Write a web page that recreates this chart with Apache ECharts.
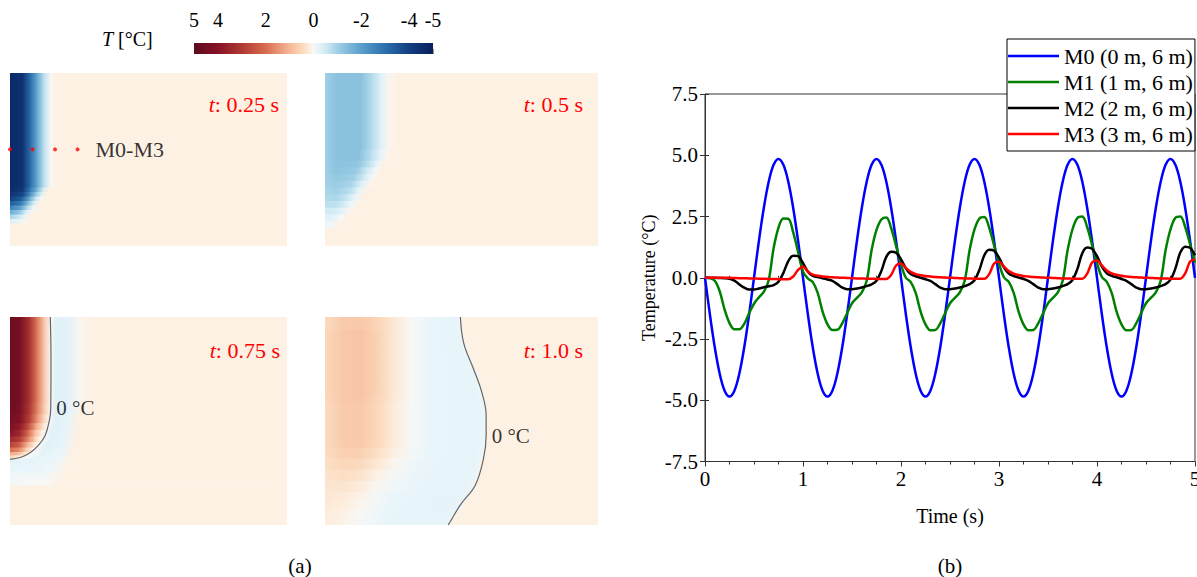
<!DOCTYPE html>
<html><head><meta charset="utf-8">
<script src="https://cdn.jsdelivr.net/npm/echarts@6/dist/echarts.min.js"></script>
<style>html,body{margin:0;padding:0;background:#fff;}#c{width:1197px;height:577px;}</style>
</head><body><div id="c"></div>
<script>
const FONT = "'Liberation Serif','Times New Roman',serif";

// ---------- (b) time series ----------
const times = [0,0.05,0.1,0.15,0.2,0.25,0.3,0.35,0.4,0.45,0.5,0.55,0.6,0.65,0.7,0.75,0.8,0.85,0.9,0.95,
1,1.05,1.1,1.15,1.2,1.25,1.3,1.35,1.4,1.45,1.5,1.55,1.6,1.65,1.7,1.75,1.8,1.85,1.9,1.95,
2,2.05,2.1,2.15,2.2,2.25,2.3,2.35,2.4,2.45,2.5,2.55,2.6,2.65,2.7,2.75,2.8,2.85,2.9,2.95,
3,3.05,3.1,3.15,3.2,3.25,3.3,3.35,3.4,3.45,3.5,3.55,3.6,3.65,3.7,3.75,3.8,3.85,3.9,3.95,
4,4.05,4.1,4.15,4.2,4.25,4.3,4.35,4.4,4.45,4.5,4.55,4.6,4.65,4.7,4.75,4.8,4.85,4.9,4.95,5];
const m0 = [0,-1.5,-2.85,-3.92,-4.61,-4.85,-4.61,-3.92,-2.85,-1.5,0,1.5,2.85,3.92,4.61,4.85,4.61,3.92,2.85,1.5,
0,-1.5,-2.85,-3.92,-4.61,-4.85,-4.61,-3.92,-2.85,-1.5,0,1.5,2.85,3.92,4.61,4.85,4.61,3.92,2.85,1.5,
0,-1.5,-2.85,-3.92,-4.61,-4.85,-4.61,-3.92,-2.85,-1.5,0,1.5,2.85,3.92,4.61,4.85,4.61,3.92,2.85,1.5,
0,-1.5,-2.85,-3.92,-4.61,-4.85,-4.61,-3.92,-2.85,-1.5,0,1.5,2.85,3.92,4.61,4.85,4.61,3.92,2.85,1.5,
0,-1.5,-2.85,-3.92,-4.61,-4.85,-4.61,-3.92,-2.85,-1.5,0,1.5,2.85,3.92,4.61,4.85,4.61,3.92,2.85,1.5,0];
const m1 = [0,-0.02,-0.12,-0.55,-1.3,-1.85,-2.1,-2.1,-1.88,-1.45,-1.06,-0.8,-0.58,-0.1,1.2,2.05,2.42,2.41,1.85,1.05,
0.25,-0.03,-0.18,-0.62,-1.38,-1.9,-2.13,-2.12,-1.86,-1.45,-1.04,-0.82,-0.6,-0.12,1.12,1.95,2.38,2.46,2.02,1.3,
0.55,0,-0.18,-0.62,-1.38,-1.9,-2.14,-2.13,-1.86,-1.45,-1.04,-0.82,-0.6,-0.12,1.12,1.97,2.42,2.48,2.04,1.32,
0.58,0.02,-0.17,-0.62,-1.38,-1.9,-2.14,-2.13,-1.86,-1.45,-1.04,-0.82,-0.6,-0.12,1.12,1.98,2.44,2.5,2.06,1.34,
0.6,0.03,-0.17,-0.62,-1.38,-1.9,-2.14,-2.13,-1.86,-1.45,-1.04,-0.82,-0.6,-0.12,1.12,1.98,2.45,2.5,2.07,1.36,0.62];
const m2 = [0,0,0,-0.01,-0.02,-0.04,-0.12,-0.27,-0.4,-0.48,-0.48,-0.44,-0.39,-0.35,-0.3,-0.16,0.2,0.68,0.9,0.88,
0.6,0.25,0.08,0.03,-0.02,-0.07,-0.13,-0.26,-0.4,-0.47,-0.47,-0.44,-0.4,-0.34,-0.27,-0.12,0.28,0.85,1.06,1.02,
0.75,0.38,0.15,0.06,0,-0.06,-0.13,-0.26,-0.4,-0.47,-0.47,-0.44,-0.4,-0.34,-0.26,-0.1,0.32,0.92,1.14,1.1,
0.82,0.42,0.17,0.07,0.01,-0.05,-0.13,-0.26,-0.4,-0.47,-0.47,-0.44,-0.4,-0.34,-0.26,-0.09,0.36,1.0,1.23,1.18,
0.88,0.45,0.18,0.08,0.02,-0.05,-0.13,-0.26,-0.4,-0.47,-0.47,-0.44,-0.4,-0.34,-0.26,-0.08,0.38,1.03,1.27,1.22,0.92];
const m3 = [0,0,0,0,0,0,-0.01,-0.02,-0.02,-0.03,-0.03,-0.04,-0.04,-0.05,-0.05,-0.06,-0.06,-0.06,0.05,0.32,
0.45,0.25,0.13,0.08,0.05,0.03,0.02,0.01,0,-0.01,-0.02,-0.03,-0.03,-0.04,-0.04,-0.05,-0.05,-0.05,0.12,0.5,
0.58,0.4,0.24,0.15,0.1,0.07,0.05,0.03,0.02,0.01,0,-0.01,-0.02,-0.03,-0.03,-0.04,-0.04,-0.04,0.15,0.58,
0.65,0.46,0.27,0.17,0.11,0.07,0.05,0.03,0.02,0.01,0,-0.01,-0.02,-0.03,-0.03,-0.04,-0.04,-0.04,0.17,0.62,
0.7,0.5,0.3,0.18,0.12,0.08,0.05,0.03,0.02,0.01,0,-0.01,-0.02,-0.03,-0.03,-0.04,-0.04,-0.04,0.18,0.66,0.76];
const seriesNames = ['M0 (0 m, 6 m)','M1 (1 m, 6 m)','M2 (2 m, 6 m)','M3 (3 m, 6 m)'];
const seriesValues = [m0, m1, m2, m3];
const seriesColors = ['#0000ff','#008000','#000000','#ff0000'];

// ---------- colour scale ----------
const cbarTicks = [5,4,2,0,-2,-4,-5];
const cmapT = [-5,-4,-3,-2,-1,-0.5,-0.15,0,0.12,0.5,1,2,3,4,5];
const cmapC = ['#0a1f5c','#123f80','#2a6fad','#5a9fcb','#9fd0e6','#d3ebf5','#e9f5fa','#f8f8f6','#fdf1e4','#fbd7b9','#f6b898','#d86c50','#b03a33','#861226','#5e0a1e'];

// ---------- (a) temperature fields: rows [heightBottom, heightTop, [[x, T], ...]] (m, °C) ----------
const rows025 = [
 [4.3,9.4,[[0,-4.7],[0.55,-4.4],[0.9,-3.0],[1.2,-1.8],[1.5,-0.7],[1.8,0.0],[2.0,0.12],[12.3,0.12]]],
 [4.1,4.3,[[0,-4.6],[0.55,-4.2],[0.9,-2.7],[1.2,-1.5],[1.45,-0.5],[1.7,0.12],[12.3,0.12]]],
 [3.9,4.1,[[0,-4.4],[0.55,-3.9],[0.9,-2.3],[1.15,-1.1],[1.4,-0.3],[1.6,0.12],[12.3,0.12]]],
 [3.7,3.9,[[0,-4.0],[0.5,-3.4],[0.85,-1.8],[1.1,-0.7],[1.35,0.0],[1.5,0.12],[12.3,0.12]]],
 [3.5,3.7,[[0,-3.4],[0.5,-2.7],[0.8,-1.3],[1.05,-0.4],[1.3,0.12],[12.3,0.12]]],
 [3.3,3.5,[[0,-2.6],[0.45,-2.0],[0.75,-0.8],[1.0,-0.15],[1.2,0.12],[12.3,0.12]]],
 [3.1,3.3,[[0,-1.7],[0.4,-1.2],[0.7,-0.4],[0.95,0.05],[1.1,0.12],[12.3,0.12]]],
 [2.9,3.1,[[0,-0.9],[0.35,-0.6],[0.65,-0.15],[0.9,0.12],[12.3,0.12]]],
 [2.7,2.9,[[0,-0.35],[0.3,-0.2],[0.6,0.05],[0.8,0.12],[12.3,0.12]]],
 [1.7,2.7,[[0,0.12],[12.3,0.12]]]
];
const rows050 = [
 [6.0,9.4,[[0,-1.0],[0.5,-1.3],[1.6,-1.3],[2.1,-0.8],[2.5,-0.3],[2.85,0.05],[3.2,0.12],[12.3,0.12]]],
 [5.5,6.0,[[0,-1.0],[0.5,-1.3],[1.55,-1.28],[2.05,-0.75],[2.45,-0.25],[2.75,0.05],[3.0,0.12],[12.3,0.12]]],
 [5.2,5.5,[[0,-1.0],[0.5,-1.28],[1.5,-1.2],[2.0,-0.65],[2.35,-0.15],[2.6,0.12],[12.3,0.12]]],
 [4.9,5.2,[[0,-1.0],[0.5,-1.25],[1.4,-1.1],[1.9,-0.5],[2.25,-0.05],[2.5,0.12],[12.3,0.12]]],
 [4.6,4.9,[[0,-0.98],[0.5,-1.18],[1.3,-1.0],[1.8,-0.4],[2.15,0.0],[2.35,0.12],[12.3,0.12]]],
 [4.3,4.6,[[0,-0.95],[0.5,-1.1],[1.2,-0.88],[1.65,-0.3],[2.0,0.05],[2.2,0.12],[12.3,0.12]]],
 [4.0,4.3,[[0,-0.9],[0.5,-1.0],[1.1,-0.75],[1.5,-0.2],[1.85,0.12],[12.3,0.12]]],
 [3.7,4.0,[[0,-0.82],[0.5,-0.88],[1.0,-0.58],[1.35,-0.12],[1.7,0.12],[12.3,0.12]]],
 [3.4,3.7,[[0,-0.7],[0.45,-0.72],[0.9,-0.4],[1.2,-0.05],[1.5,0.12],[12.3,0.12]]],
 [3.1,3.4,[[0,-0.5],[0.4,-0.48],[0.8,-0.2],[1.05,0.05],[1.3,0.12],[12.3,0.12]]],
 [2.8,3.1,[[0,-0.28],[0.35,-0.22],[0.7,0.0],[0.95,0.12],[12.3,0.12]]],
 [2.5,2.8,[[0,-0.1],[0.3,-0.05],[0.6,0.12],[12.3,0.12]]],
 [1.7,2.5,[[0,0.12],[12.3,0.12]]]
];
const rows075 = [
 [5.5,9.4,[[0,4.6],[0.45,4.4],[0.9,3.0],[1.2,1.8],[1.5,0.8],[1.8,0.0],[2.0,-0.3],[2.6,-0.25],[3.1,0.05],[3.5,0.12],[12.3,0.12]]],
 [5.0,5.5,[[0,4.55],[0.45,4.3],[0.9,2.9],[1.2,1.7],[1.5,0.7],[1.8,0.0],[2.0,-0.3],[2.6,-0.22],[3.1,0.08],[3.4,0.12],[12.3,0.12]]],
 [4.6,5.0,[[0,4.4],[0.45,4.1],[0.9,2.7],[1.2,1.45],[1.5,0.5],[1.75,0.0],[1.95,-0.3],[2.55,-0.2],[3.0,0.12],[12.3,0.12]]],
 [4.3,4.6,[[0,4.2],[0.45,3.8],[0.85,2.4],[1.15,1.2],[1.45,0.35],[1.67,0.0],[1.9,-0.3],[2.5,-0.2],[3.0,0.12],[12.3,0.12]]],
 [4.0,4.3,[[0,3.9],[0.45,3.4],[0.8,2.0],[1.1,0.9],[1.38,0.2],[1.56,0.0],[1.8,-0.3],[2.45,-0.2],[2.95,0.12],[12.3,0.12]]],
 [3.75,4.0,[[0,3.4],[0.45,2.9],[0.8,1.6],[1.1,0.6],[1.3,0.1],[1.45,0.0],[1.75,-0.3],[2.4,-0.2],[2.9,0.12],[12.3,0.12]]],
 [3.5,3.75,[[0,2.8],[0.4,2.3],[0.75,1.1],[1.05,0.3],[1.25,0.0],[1.6,-0.28],[2.35,-0.18],[2.85,0.12],[12.3,0.12]]],
 [3.3,3.5,[[0,2.0],[0.4,1.6],[0.7,0.7],[0.95,0.15],[1.08,0.0],[1.5,-0.25],[2.3,-0.15],[2.8,0.12],[12.3,0.12]]],
 [3.15,3.3,[[0,1.2],[0.35,0.9],[0.65,0.3],[0.85,0.0],[1.4,-0.22],[2.25,-0.15],[2.75,0.12],[12.3,0.12]]],
 [3.0,3.15,[[0,0.5],[0.3,0.3],[0.55,0.0],[1.3,-0.2],[2.2,-0.14],[2.7,0.12],[12.3,0.12]]],
 [2.7,3.0,[[0,-0.22],[1.0,-0.2],[2.0,-0.12],[2.6,0.12],[12.3,0.12]]],
 [2.4,2.7,[[0,-0.16],[1.2,-0.14],[2.0,-0.08],[2.5,0.12],[12.3,0.12]]],
 [2.1,2.4,[[0,-0.1],[1.5,-0.07],[2.4,0.12],[12.3,0.12]]],
 [1.8,2.1,[[0,-0.04],[1.5,0.0],[2.2,0.12],[12.3,0.12]]],
 [0,1.8,[[0,0.12],[12.3,0.12]]]
];
const rows100 = [
 [8.8,9.4,[[0,0.45],[0.8,0.7],[1.6,0.75],[2.3,0.55],[3.1,0.25],[3.9,0.0],[4.7,-0.15],[5.8,-0.2],[6.13,-0.1],[6.13,0.12],[12.3,0.12]]],
 [8.2,8.8,[[0,0.5],[0.8,0.75],[1.6,0.8],[2.3,0.6],[3.1,0.25],[3.9,0.0],[4.7,-0.15],[5.87,-0.2],[6.22,-0.1],[6.22,0.12],[12.3,0.12]]],
 [7.6,8.2,[[0,0.5],[0.8,0.75],[1.6,0.8],[2.3,0.6],[3.1,0.25],[3.9,0.0],[4.7,-0.15],[6.05,-0.2],[6.4,-0.1],[6.4,0.12],[12.3,0.12]]],
 [7.0,7.6,[[0,0.5],[0.8,0.75],[1.6,0.8],[2.3,0.6],[3.1,0.25],[3.9,0.0],[4.7,-0.15],[6.3,-0.2],[6.65,-0.1],[6.65,0.12],[12.3,0.12]]],
 [6.4,7.0,[[0,0.5],[0.8,0.75],[1.6,0.8],[2.3,0.6],[3.1,0.25],[3.9,0.0],[4.7,-0.15],[6.55,-0.2],[6.9,-0.1],[6.9,0.12],[12.3,0.12]]],
 [5.9,6.4,[[0,0.5],[0.8,0.75],[1.6,0.8],[2.3,0.6],[3.1,0.25],[3.9,0.0],[4.7,-0.15],[6.72,-0.2],[7.07,-0.1],[7.07,0.12],[12.3,0.12]]],
 [5.5,5.9,[[0,0.48],[0.8,0.73],[1.6,0.77],[2.3,0.56],[3.1,0.23],[3.9,0.0],[4.7,-0.15],[6.83,-0.2],[7.18,-0.1],[7.18,0.12],[12.3,0.12]]],
 [3.5,5.5,[[0,0.45],[0.8,0.7],[1.6,0.72],[2.3,0.5],[3.1,0.2],[3.9,-0.02],[4.7,-0.15],[6.9,-0.2],[7.26,-0.1],[7.26,0.12],[12.3,0.12]]],
 [3.0,3.5,[[0,0.42],[0.8,0.62],[1.6,0.6],[2.3,0.4],[3.1,0.14],[3.9,-0.05],[4.7,-0.15],[6.8,-0.2],[7.15,-0.1],[7.15,0.12],[12.3,0.12]]],
 [2.5,3.0,[[0,0.38],[0.8,0.5],[1.6,0.45],[2.3,0.26],[3.1,0.05],[3.9,-0.1],[4.7,-0.16],[6.65,-0.2],[7.0,-0.1],[7.0,0.12],[12.3,0.12]]],
 [2.0,2.5,[[0,0.33],[0.8,0.4],[1.6,0.32],[2.3,0.13],[3.1,-0.04],[3.9,-0.13],[4.7,-0.17],[6.55,-0.2],[6.9,-0.1],[6.9,0.12],[12.3,0.12]]],
 [1.5,2.0,[[0,0.3],[0.8,0.3],[1.6,0.2],[2.3,0.03],[3.1,-0.1],[4.7,-0.18],[6.4,-0.2],[6.7,-0.1],[6.7,0.12],[12.3,0.12]]],
 [1.1,1.5,[[0,0.27],[0.8,0.22],[1.6,0.1],[2.3,-0.04],[3.1,-0.14],[4.7,-0.2],[6.1,-0.2],[6.45,-0.1],[6.45,0.12],[12.3,0.12]]],
 [0.7,1.1,[[0,0.24],[0.8,0.17],[1.6,0.05],[2.3,-0.07],[3.1,-0.16],[4.7,-0.2],[5.85,-0.2],[6.2,-0.1],[6.2,0.12],[12.3,0.12]]],
 [0.35,0.7,[[0,0.2],[0.8,0.12],[1.6,0.0],[2.3,-0.1],[3.1,-0.18],[5.55,-0.2],[5.9,-0.1],[5.9,0.12],[12.3,0.12]]],
 [0,0.35,[[0,0.18],[0.8,0.1],[1.6,-0.02],[2.3,-0.12],[3.1,-0.18],[5.35,-0.2],[5.7,-0.1],[5.7,0.12],[12.3,0.12]]]
];
const probeX = [0,1,2,3];
const probeY = [6,6,6,6];
const contour075X = [1.79,1.82,1.81,1.76,1.56,1.26,0.89,0.45,0];
const contour075Y = [9.4,7.5,5.3,4.79,4.04,3.6,3.27,3.05,2.97];
const contour100X = [6.10,6.25,6.70,7.07,7.26,7.26,7.14,6.77,6.10,5.65,5.55];
const contour100Y = [9.4,8.22,7.03,5.98,4.94,4.04,3.0,1.8,0.91,0.16,0];
const contourLabel075 = 2, contourLabel100 = 5;

// ---------- helpers ----------
function hexRgb(h){return [parseInt(h.slice(1,3),16),parseInt(h.slice(3,5),16),parseInt(h.slice(5,7),16)];}
const cmapRgb = cmapC.map(hexRgb);
function tColor(t){
  if(t<=cmapT[0]) return cmapC[0];
  if(t>=cmapT[cmapT.length-1]) return cmapC[cmapC.length-1];
  for(let i=0;i<cmapT.length-1;i++){
    if(t<=cmapT[i+1]){
      const f=(t-cmapT[i])/(cmapT[i+1]-cmapT[i]); const a=cmapRgb[i], b=cmapRgb[i+1];
      return 'rgb('+a.map((v,k)=>Math.round(v+(b[k]-v)*f)).join(',')+')';
    }
  }
}
function cells(rows){
  const out=[];
  rows.forEach(r=>{const p=r[2]; for(let i=0;i<p.length-1;i++){ if(p[i+1][0]>p[i][0]) out.push([p[i][0],p[i+1][0],r[0],r[1],p[i][1],p[i+1][1]]); }});
  return out;
}
function renderCell(params, api){
  const a = api.coord([api.value(0), api.value(3)]);
  const b = api.coord([api.value(1), api.value(2)]);
  return {type:'rect', shape:{x:a[0], y:a[1], width:b[0]-a[0]+0.7, height:b[1]-a[1]+0.7},
    style:{fill:new echarts.graphic.LinearGradient(0,0,1,0,[{offset:0,color:tColor(api.value(4))},{offset:1,color:tColor(api.value(5))}])}};
}
function fieldSeries(rows, idx){
  return {type:'custom', xAxisIndex:idx, yAxisIndex:idx, renderItem:renderCell, clip:true, silent:true,
    encode:{x:[0,1], y:[2,3]}, data:cells(rows), z:1};
}
function contourSeries(xs, ys, idx, labelIdx){
  return [{type:'line', xAxisIndex:idx, yAxisIndex:idx, data:xs.map((x,i)=>[x,ys[i]]), smooth:0.4, symbol:'none',
    lineStyle:{color:'#666', width:1.2}, z:3, silent:true},
   {type:'scatter', xAxisIndex:idx, yAxisIndex:idx, symbolSize:1, itemStyle:{color:'rgba(0,0,0,0)'}, z:4, silent:true,
    data:[{value:[xs[labelIdx], ys[labelIdx]], label:{show:true, position:'right', distance:5, formatter:'0 °C', color:'#000', fontFamily:FONT, fontSize:21}}]}];
}
function panelX(i){return {gridIndex:i, type:'value', min:0, max:12.3, show:false};}
function panelY(i, lo){return {gridIndex:i, type:'value', min:lo, max:9.4, show:false};}

const chart = echarts.init(document.getElementById('c'), null, {renderer:'svg'});
const axisColor = '#333';
const NB = {outerBoundsMode:'none'};
const option = {
  animation:false,
  backgroundColor:'#fff',
  grid:[
    Object.assign({left:10, top:73, width:277, height:173}, NB),
    Object.assign({left:325, top:73, width:273, height:173}, NB),
    Object.assign({left:10, top:317, width:277, height:208}, NB),
    Object.assign({left:325, top:317, width:273, height:208}, NB),
    Object.assign({left:194, top:43, width:239, height:11}, NB),
    Object.assign({left:705, top:94, width:490, height:367.5, show:true, borderColor:axisColor, borderWidth:1, backgroundColor:'transparent'}, NB)
  ],
  xAxis:[
    panelX(0), panelX(1), panelX(2), panelX(3),
    {gridIndex:4, type:'value', min:-5, max:5, inverse:true, position:'top',
      axisLine:{show:false}, splitLine:{show:false},
      axisTick:{show:true, customValues:cbarTicks, length:5, lineStyle:{color:'#999'}},
      axisLabel:{customValues:cbarTicks, margin:13, color:'#000', fontFamily:FONT, fontSize:20}},
    {gridIndex:5, type:'value', min:0, max:5, interval:1,
      axisLine:{show:true, onZero:false, lineStyle:{color:axisColor}},
      axisTick:{show:true, length:5, lineStyle:{color:axisColor}},
      minorTick:{show:true, splitNumber:4, length:3, lineStyle:{color:axisColor}},
      axisLabel:{color:'#000', fontFamily:FONT, fontSize:21, margin:7},
      splitLine:{show:false},
      name:'Time (s)', nameLocation:'middle', nameGap:44,
      nameTextStyle:{color:'#000', fontFamily:FONT, fontSize:20}},
    {gridIndex:5, type:'value', min:0, max:5, interval:1, position:'bottom',
      axisLine:{show:false}, axisLabel:{show:false}, splitLine:{show:false},
      axisTick:{show:true, inside:true, length:4, lineStyle:{color:axisColor}},
      minorTick:{show:true, splitNumber:4, length:2, lineStyle:{color:axisColor}}}
  ],
  yAxis:[
    panelY(0,1.7), panelY(1,1.7), panelY(2,0), panelY(3,0),
    {gridIndex:4, type:'value', min:0, max:1, show:false},
    {gridIndex:5, type:'value', min:-7.5, max:7.5, interval:2.5,
      axisLine:{show:true, onZero:false, lineStyle:{color:axisColor}},
      axisTick:{show:true, length:5, lineStyle:{color:axisColor}},
      axisLabel:{color:'#000', fontFamily:FONT, fontSize:21, margin:7, formatter:v=>v.toFixed(1)},
      splitLine:{show:false},
      name:'Temperature (°C)', nameLocation:'middle', nameGap:47, nameRotate:90,
      nameTextStyle:{color:'#000', fontFamily:FONT, fontSize:18}},
    {gridIndex:5, type:'value', min:-7.5, max:7.5, interval:2.5, position:'left',
      axisLine:{show:false}, axisLabel:{show:false}, splitLine:{show:false},
      axisTick:{show:true, inside:true, length:4, lineStyle:{color:axisColor}}}
  ],
  legend:{
    data:seriesNames, orient:'vertical', left:1007, top:39, icon:'rect',
    itemWidth:51, itemHeight:2.5, itemGap:4, padding:[6,2,6,1],
    backgroundColor:'#fff', borderColor:'#000', borderWidth:1,
    textStyle:{color:'#000', fontFamily:FONT, fontSize:22, lineHeight:22}
  },
  graphic:[
    {type:'text', left:102, top:29, z:100, style:{text:'{i|T} [°C]', fill:'#000', font:'20px '+FONT,
      rich:{i:{fontStyle:'italic', fontFamily:FONT, fontSize:20, fill:'#000'}}}},
    {type:'text', x:279, y:104, z:100, style:{text:'{i|t}: 0.25 s', align:'right', verticalAlign:'middle', fill:'#ff0000', font:'22px '+FONT,
      rich:{i:{fontStyle:'italic', fontFamily:FONT, fontSize:22, fill:'#ff0000'}}}},
    {type:'text', x:583, y:104, z:100, style:{text:'{i|t}: 0.5 s', align:'right', verticalAlign:'middle', fill:'#ff0000', font:'22px '+FONT,
      rich:{i:{fontStyle:'italic', fontFamily:FONT, fontSize:22, fill:'#ff0000'}}}},
    {type:'text', x:280, y:350, z:100, style:{text:'{i|t}: 0.75 s', align:'right', verticalAlign:'middle', fill:'#ff0000', font:'22px '+FONT,
      rich:{i:{fontStyle:'italic', fontFamily:FONT, fontSize:22, fill:'#ff0000'}}}},
    {type:'text', x:583, y:350, z:100, style:{text:'{i|t}: 1.0 s', align:'right', verticalAlign:'middle', fill:'#ff0000', font:'22px '+FONT,
      rich:{i:{fontStyle:'italic', fontFamily:FONT, fontSize:22, fill:'#ff0000'}}}},
    {type:'text', x:300, y:566, z:100, style:{text:'(a)', align:'center', verticalAlign:'middle', fill:'#000', font:'21px '+FONT}},
    {type:'text', x:950, y:566, z:100, style:{text:'(b)', align:'center', verticalAlign:'middle', fill:'#000', font:'21px '+FONT}}
  ],
  series:[
    fieldSeries(rows025,0), fieldSeries(rows050,1), fieldSeries(rows075,2), fieldSeries(rows100,3),
    ...contourSeries(contour075X, contour075Y, 2, contourLabel075),
    ...contourSeries(contour100X, contour100Y, 3, contourLabel100),
    {type:'scatter', xAxisIndex:0, yAxisIndex:0, symbolSize:4, itemStyle:{color:'#ff0000'}, z:5, silent:true, clip:false,
      data:probeX.map((x,i)=> i===probeX.length-1 ? {value:[x,probeY[i]], label:{show:true, position:'right', distance:16, formatter:'M0-M3', color:'#000', fontFamily:FONT, fontSize:22}} : [x,probeY[i]])},
    {type:'custom', xAxisIndex:4, yAxisIndex:4, silent:true, data:[[cbarTicks[0], cbarTicks[cbarTicks.length-1]]],
      encode:{x:[0,1]},
      renderItem:(params, api)=>{
        const a = api.coord([api.value(0), 1]); const b = api.coord([api.value(1), 0]);
        const x0 = Math.min(a[0],b[0]), x1 = Math.max(a[0],b[0]), y0 = Math.min(a[1],b[1]), y1 = Math.max(a[1],b[1]);
        const hi = api.value(0), lo = api.value(1);
        const stops = cmapT.map((v,i)=>({offset:(hi-v)/(hi-lo), color:cmapC[i]})).sort((p,q)=>p.offset-q.offset);
        return {type:'rect', shape:{x:x0, y:y0, width:x1-x0, height:y1-y0}, style:{fill:new echarts.graphic.LinearGradient(0,0,1,0,stops)}};
      }},
    ...seriesNames.map((n,k)=>({
      name:n, type:'line', xAxisIndex:5, yAxisIndex:5, symbol:'none', smooth:0.35, z:3,
      data:times.map((t,i)=>[t, seriesValues[k][i]]),
      lineStyle:{color:seriesColors[k], width:2.5}, itemStyle:{color:seriesColors[k]}
    }))
  ]
};
chart.setOption(option);
</script></body></html>
